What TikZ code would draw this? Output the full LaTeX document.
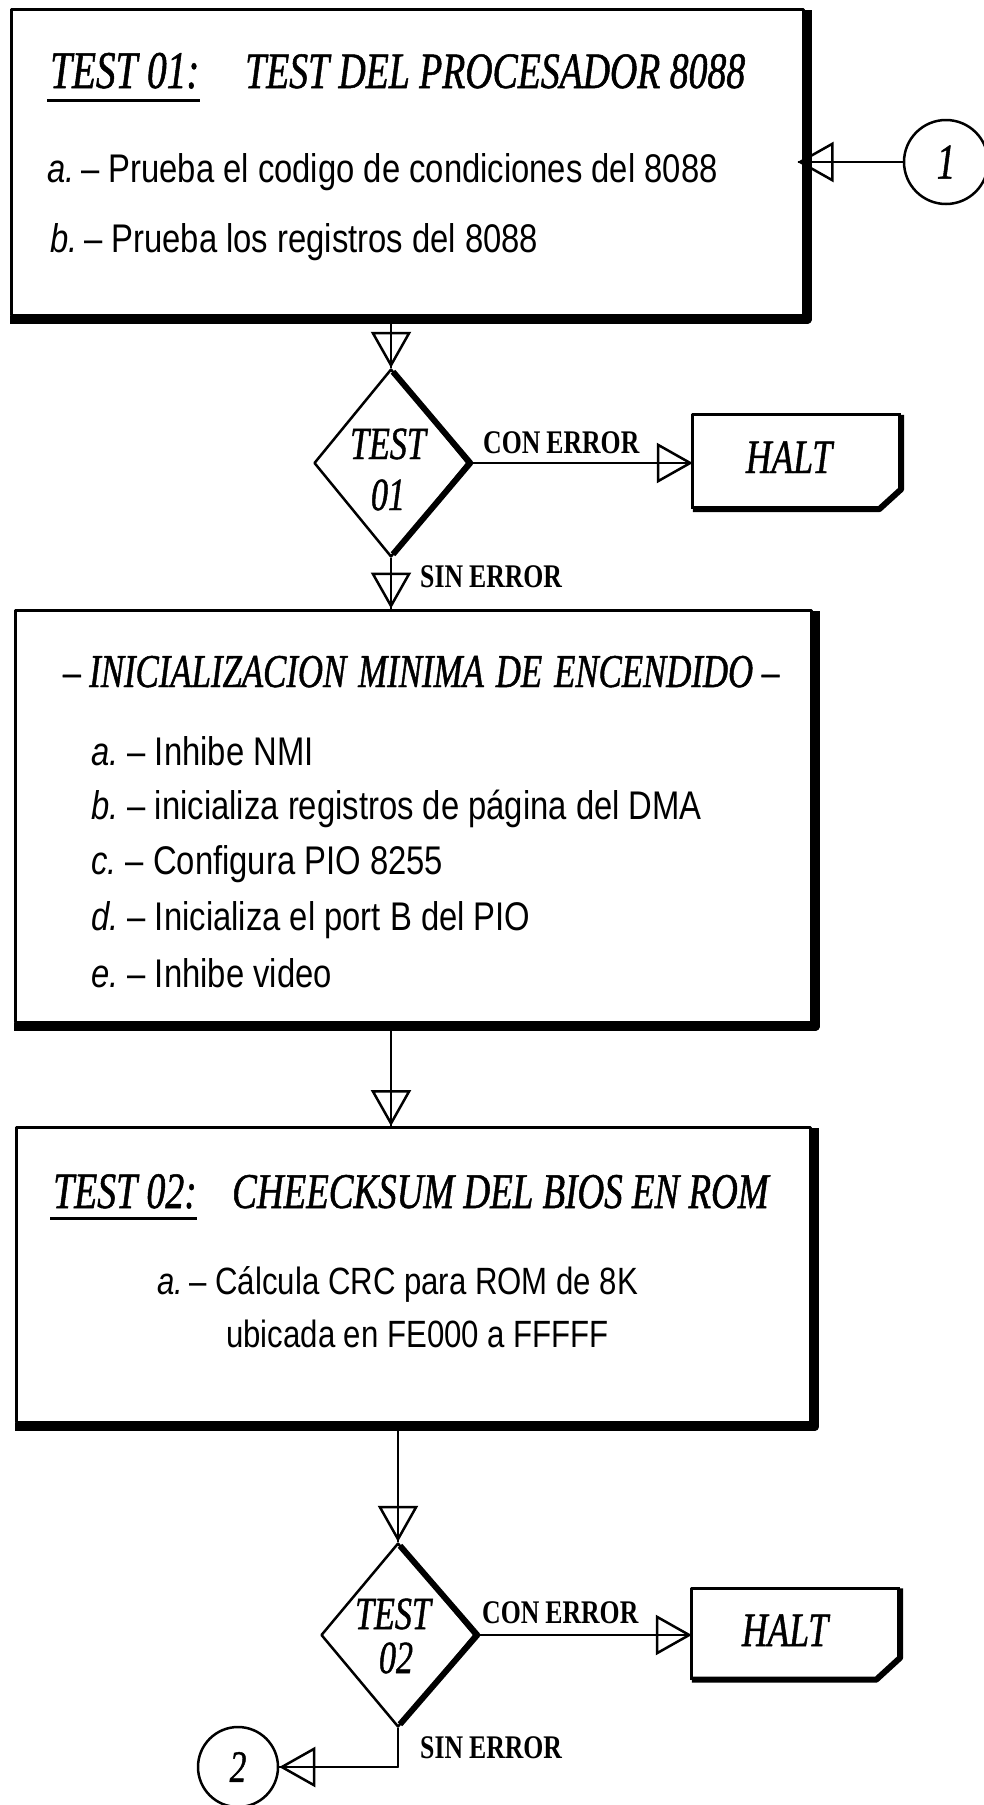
\documentclass[tikz,border=0pt]{standalone}
\usepackage{fontspec}
\setmainfont{Liberation Serif}
\newfontfamily\ttlfam[FakeStretch=0.74,FakeBold=1]{Liberation Serif}
\newfontfamily\bdyfam[FakeStretch=0.82]{Liberation Sans}
\newfontfamily\lblfam[FakeStretch=0.78]{Liberation Serif}
\usetikzlibrary{arrows.meta,shapes.geometric,calc}
\begin{document}
\begin{tikzpicture}[x=1pt,y=-1pt,line join=round,
  frame/.style={rectangle,draw,line width=3pt,inner sep=0pt},
  shadowline/.style={line width=8pt,line cap=rect},
  arr/.style={line width=2.5pt,-{Triangle[open,length=36pt,width=40pt,line width=2.5pt]},postaction={draw,-}},
  dia/.style={diamond,draw,line width=2.5pt,inner sep=0pt,minimum width=154pt,minimum height=188pt},
  halt/.style={rectangle,inner sep=0pt,minimum width=208pt,minimum height=94pt},
  conn/.style={circle,draw,line width=2.5pt,inner sep=0pt,font=\ttlfam\itshape\fontsize{50}{50}\selectfont},
  ttl/.style={anchor=base west,inner sep=0pt,font=\ttlfam\itshape\fontsize{53}{60}\selectfont},
  bdy/.style={anchor=base west,inner sep=0pt,font=\bdyfam\fontsize{40}{46}\selectfont},
  lbl/.style={anchor=base west,inner sep=0pt,font=\lblfam\bfseries\fontsize{33}{36}\selectfont},
  dtxt/.style={anchor=base,inner sep=0pt,font=\ttlfam\itshape\fontsize{46}{50}\selectfont}]
\useasboundingbox (0,0) rectangle (983,1805);

% ---------- box 1
\node[frame,minimum width=792pt,minimum height=306pt] (box1) at (407,162) {};
\draw[shadowline] ($(box1.north east)+(3,6)$) -- ($(box1.south east)+(3,3)$) -- ($(box1.south west)+(4,3)$);
\node[ttl] (t1a) at (50,88) {TEST 01:};
\draw[line width=3pt] ($(t1a.base west)+(-3,12)$) -- ($(t1a.base east)+(0,12)$);
\node[ttl,font=\ttlfam\itshape\fontsize{51}{60}\selectfont] (t1b) at (245,88) {TEST DEL PROCESADOR 8088};
\node[bdy] (l1a) at (47,182) {\textit{a.}\,– Prueba el codigo de condiciones del 8088};
\node[bdy] (l1b) at (50,252) {\textit{b.}\,– Prueba los registros del 8088};

% connector 1
\node[conn,minimum size=84pt] (c1) at (946,162) {1};
\draw[arr,shorten >=-7pt] (c1.west) -- (c1.west -| box1.east);

% ---------- decision 1
\node[dia] (d1) at (391,463) {};
\draw[line width=6pt] ($(d1.north)+(2,4)$) -- ($(d1.east)+(1,0)$) -- ($(d1.south)+(2,-4)$);
\node[dtxt] (d1a) at (388,459) {TEST};
\node[dtxt] (d1b) at (388,510) {01};
\draw[arr] (box1.south -| d1.north) -- (d1.north);

% halt 1
\node[halt] (h1) at (797,462) {};
\draw[line width=3pt] (h1.south west) -- (h1.north west) -- (h1.north east);
\draw[line width=6pt] (h1.north east) -- ($(h1.south east)+(0,-20)$) -- ($(h1.south east)+(-22,0)$) -- (h1.south west);
\node[dtxt,font=\ttlfam\itshape\fontsize{48}{50}\selectfont] (ht1) at (789,473) {HALT};
\draw[arr] (d1.east) -- (d1.east -| h1.west);
\node[lbl] (ce1) at (483,453) {CON\hspace{6pt}ERROR};
\node[lbl] (se1) at (420,587) {SIN\hspace{6pt}ERROR};

% ---------- box 2
\node[frame,minimum width=796pt,minimum height=412pt] (box2) at (413,816) {};
\draw[shadowline] ($(box2.north east)+(3,6)$) -- ($(box2.south east)+(3,3)$) -- ($(box2.south west)+(4,3)$);
\draw[arr] (d1.south) -- (d1.south |- box2.north);
\node[ttl,font=\ttlfam\itshape\fontsize{47}{54}\selectfont] (t2) at (63,687) {– INICIALIZACION\hspace{12pt}MINIMA\hspace{12pt}DE\hspace{12pt}ENCENDIDO –};
\node[bdy] (l2a) at (91,765) {\textit{a.}\ – Inhibe NMI};
\node[bdy] (l2b) at (91,819) {\textit{b.}\ – inicializa registros de página del DMA};
\node[bdy] (l2c) at (91,874) {\textit{c.}\ – Configura PIO 8255};
\node[bdy] (l2d) at (91,930) {\textit{d.}\ – Inicializa el port B del PIO};
\node[bdy] (l2e) at (91,987) {\textit{e.}\ – Inhibe video};

% ---------- box 3
\node[frame,minimum width=794pt,minimum height=295pt] (box3) at (413,1275) {};
\draw[shadowline] ($(box3.north east)+(3,6)$) -- ($(box3.south east)+(3,3)$) -- ($(box3.south west)+(4,3)$);
\draw[arr] (box2.south -| d1.south) -- (box3.north -| d1.south);
\node[ttl,font=\ttlfam\itshape\fontsize{51}{54}\selectfont] (t3a) at (53,1208) {TEST 02:};
\draw[line width=3pt] ($(t3a.base west)+(-3,10)$) -- ($(t3a.base east)+(0,10)$);
\node[ttl,font=\ttlfam\itshape\fontsize{50}{54}\selectfont] (t3b) at (232,1208) {CHEECKSUM DEL BIOS EN ROM};
\node[bdy,font=\bdyfam\fontsize{38}{44}\selectfont] (l3a) at (157,1294) {\textit{a.}\,– Cálcula CRC para ROM de 8K};
\node[bdy,font=\bdyfam\fontsize{38}{44}\selectfont] (l3b) at (226,1347) {ubicada en FE000 a FFFFF};

% ---------- decision 2
\node[dia,minimum height=184pt] (d2) at (398,1635) {};
\draw[line width=6pt] ($(d2.north)+(2,4)$) -- ($(d2.east)+(1,0)$) -- ($(d2.south)+(2,-4)$);
\node[dtxt] (d2a) at (393,1629) {TEST};
\node[dtxt] (d2b) at (396,1673) {02};
\draw[arr] (box3.south -| d2.north) -- (d2.north);

% halt 2
\node[halt,minimum height=91pt] (h2) at (796,1634) {};
\draw[line width=3pt] (h2.south west) -- (h2.north west) -- (h2.north east);
\draw[line width=6pt] (h2.north east) -- ($(h2.south east)+(0,-22)$) -- ($(h2.south east)+(-24,0)$) -- (h2.south west);
\node[dtxt,font=\ttlfam\itshape\fontsize{48}{50}\selectfont] (ht2) at (785,1646) {HALT};
\draw[arr] (d2.east) -- (d2.east -| h2.west);
\node[lbl] (ce2) at (482,1623) {CON\hspace{6pt}ERROR};
\node[lbl] (se2) at (420,1758) {SIN\hspace{6pt}ERROR};

% connector 2
\node[conn,minimum size=80pt,font=\ttlfam\itshape\fontsize{45}{45}\selectfont] (c2) at (238,1767) {2};
\draw[arr] (d2.south) |- (c2.east);
\end{tikzpicture}
\end{document}
